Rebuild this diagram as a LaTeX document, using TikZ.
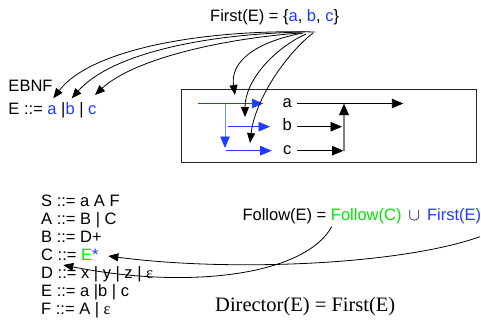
\documentclass[tikz,border=0pt]{standalone}
\usepackage{fontspec}
\setmainfont{Liberation Sans}
\newfontfamily\serifface{Liberation Serif}
\usetikzlibrary{arrows.meta}
\definecolor{ruleblue}{RGB}{30,60,255}
\definecolor{rulegreen}{RGB}{0,230,0}
\definecolor{paleblue}{RGB}{110,140,255}
\begin{document}
\begin{tikzpicture}[x=1pt,y=-1pt,
  txt/.style={inner sep=0pt, anchor=base west, font=\fontsize{16.5}{18}\selectfont},
  lbl/.style={inner sep=0pt, anchor=base, font=\fontsize{16.5}{18}\selectfont},
  flowtip/.style={-{Triangle[length=11.5pt,width=9.5pt]}},
  blueflow/.style={flowtip, draw=ruleblue, line width=0.9pt},
  blackflow/.style={flowtip, draw=black, line width=0.9pt},
  link/.style={-{Triangle[length=10pt,width=8pt]}, draw=black, line width=0.8pt}]
\useasboundingbox (0,0) rectangle (481,322);

% headings and equations
\node[txt] (first) at (210,21.7) {First(E) = \{\textcolor{ruleblue}{a}, \textcolor{ruleblue}{b}, \textcolor{ruleblue}{c}\}};
\node[txt] (ebnf) at (8.3,91.7) {EBNF};
\node[txt] (eline) at (8.3,114) {E ::= \textcolor{ruleblue}{a} |\textcolor{ruleblue}{b} | \textcolor{ruleblue}{c}};

% grammar
\node[txt] (gs) at (41,206.5) {S ::= a A F};
\node[txt] (ga) at (41,224.6) {A ::= B | C};
\node[txt] (gb) at (41,242.6) {B ::= D+};
\node[txt] (gc) at (41,260.7) {C ::= \textcolor{rulegreen}{E}\textcolor{ruleblue}{*}};
\node[txt] (gd) at (41,278.7) {D ::= x | y | z | {\serifface ε}};
\node[txt] (ge) at (41,296.8) {E ::= a |b | c};
\node[txt] (gf) at (41,314.8) {F ::= A | {\serifface ε}};

\node[txt] (follow) at (242.3,220) {Follow(E) = \textcolor{rulegreen}{Follow(C)}\hspace{7pt}$\cup$\hspace{7pt}\textcolor{ruleblue}{First(E)}};
\node[inner sep=0pt, anchor=base west, font=\serifface\fontsize{20.5}{24}\selectfont] (director) at (215,311.7) {Director(E) = First(E)};

% syntax chart
\node[draw=black!85, line width=0.9pt, minimum width=295.7pt, minimum height=73.4pt, inner sep=0pt] (box) at (328.85,126) {};
\node[lbl] (la) at (287.3,107.3) {a};
\node[lbl] (lb) at (287.3,130.5) {b};
\node[lbl] (lc) at (287.3,154.5) {c};

\coordinate (ain) at (198.3,103.5);
\coordinate (split) at (225,103.5);
\coordinate (down) at (225,148);
\coordinate (bin) at (227.5,126.7);
\coordinate (cin) at (226,150.7);
\coordinate (aend) at (263.3,103.5);
\coordinate (bend) at (270,126.7);
\coordinate (cend) at (271.7,150.7);
\coordinate (aout) at (296.7,103.5);
\coordinate (bout) at (296.7,126.7);
\coordinate (cout) at (296.7,150.7);
\coordinate (aexit) at (403.3,103.5);
\coordinate (bjoin) at (342,126.7);
\coordinate (cjoin) at (343.5,150.7);
\coordinate (rise) at (344,150.7);
\coordinate (merge) at (344,103.5);

\draw[blueflow] (ain) -- (aend);
\draw[-{Triangle[length=11.5pt,width=9.5pt,ruleblue]}, draw=paleblue, line width=0.8pt] (split) -- (down);
\draw[blueflow] (bin) -- (bend);
\draw[blueflow] (cin) -- (cend);
\draw[blackflow] (aout) -- (aexit);
\draw[blackflow] (bout) -- (bjoin);
\draw[blackflow] (cout) -- (cjoin);
\draw[-{Triangle[length=11.5pt,width=9.5pt,black]}, draw=black!50, line width=1.8pt] (rise) -- (merge);

% links from First(E)
\coordinate (s1) at (315,32);
\coordinate (s2) at (305,32);
\coordinate (s3) at (300,33);
\coordinate (s4) at (303,33);
\coordinate (s5) at (306,34);
\coordinate (s6) at (313,33);
\coordinate (ta) at (53.3,98.3);
\coordinate (tb) at (71.7,98.3);
\coordinate (tc) at (95,95);
\coordinate (ba) at (235,95);
\coordinate (bb) at (245,117);
\coordinate (bc) at (250,143);
\draw[link] (s1) .. controls (200,29) and (90,50) .. (ta);
\draw[link] (s2) .. controls (200,34) and (110,55) .. (tb);
\draw[link] (s3) .. controls (210,40) and (130,62) .. (tc);
\draw[link] (s4) .. controls (255,42) and (230,62) .. (ba);
\draw[link] (s5) .. controls (275,48) and (245,80) .. (bb);
\draw[link] (s6) .. controls (285,55) and (255,100) .. (bc);

% links from Follow(E)
\coordinate (fi) at (480,236.7);
\coordinate (fc) at (331.7,226.7);
\coordinate (star) at (108.3,256);
\coordinate (dd) at (63.3,265);
\draw[link] (fi) .. controls (400,265) and (230,272) .. (star);
\draw[link] (fc) .. controls (305,275) and (190,290) .. (dd);
\end{tikzpicture}
\end{document}
